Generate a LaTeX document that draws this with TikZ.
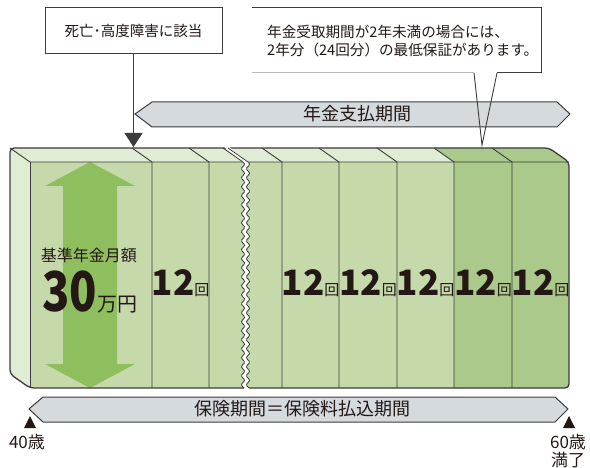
\documentclass[tikz,border=0pt]{standalone}
\usepackage{fontspec}
\setmainfont{Noto Sans CJK JP}
\usetikzlibrary{arrows.meta}
\definecolor{ink}{HTML}{231815}
\definecolor{edge}{HTML}{3C3C3C}
\definecolor{frontg}{HTML}{C6D9AB}
\definecolor{topg}{HTML}{E1ECD5}
\definecolor{darkg}{HTML}{ABC98A}
\definecolor{arrowg}{HTML}{8EBE5E}
\definecolor{bandc}{HTML}{D5DADF}
\tikzset{
  edgeline/.style={draw=edge, line width=1pt},
  bandshape/.style={fill=bandc, draw=edge, line width=1pt},
  bandlabel/.style={inner sep=0pt, text=ink, font=\fontsize{18}{18}\selectfont},
  cnt/.style={inner sep=0pt, anchor=base, text=ink},
  smalllabel/.style={inner sep=0pt, text=ink, font=\fontsize{17}{17}\selectfont},
}
\newcommand{\twelve}{{\fontsize{35}{35}\selectfont\bfseries 12}{\fontsize{15}{15}\selectfont 回}}
\begin{document}
\begin{tikzpicture}[x=1pt,y=-1pt]
\useasboundingbox (0,0) rectangle (590,468);

% callout box
\path[fill=white] (252,8) -- (541,8) -- (541,73) -- (497,73) -- (482,145) -- (474,73) -- (252,73) -- cycle;
\draw[edgeline] (252,8) -- (541,8) -- (541,73) -- (497,73) (474,73) -- (252,73) -- cycle;
\node[inner sep=0pt, anchor=west, align=left, text=ink, font=\fontsize{14.6}{18.5}\selectfont] (note) at (267,41)
  {年金受取期間が2年未満の場合には、\\2年分（24回分）の最低保証があります。};

% death box
\node[edgeline, fill=white, minimum width=177pt, minimum height=46pt, inner sep=0pt,
  text=ink, font=\fontsize{14.5}{14.5}\selectfont] (death) at (133.5,31) {死亡･高度障害に該当};

% pension band
\path[bandshape] (135,114) -- (152,102) -- (557,102) -- (570,114) -- (557,127) -- (152,127) -- cycle;
\node[bandlabel] (payperiod) at (357,114) {年金支払期間};

% callout tail on top of band
\coordinate (tailtip) at (482,145);
\draw[edge, line width=0.9pt] (474,73) -- (tailtip) -- (497,73);

% block
\def\silh{(30,388) -- (10,374) -- (10,148) -- (549,148) -- (569,162) -- (569,388) -- cycle}
\fill[topg, rounded corners=4pt] \silh;
\begin{scope}
  \clip[rounded corners=4pt] \silh;
  \fill[frontg] (30,162) rectangle (454,388);
  \fill[darkg] (454,162) rectangle (575,390);
  \fill[darkg] (434,148) -- (560,148) -- (575,162) -- (454,162) -- cycle;
\end{scope}

% big double arrow
\fill[arrowg] (90,162) -- (135,186) -- (117,186) -- (117,364) -- (135,364) -- (90,388)
  -- (45,364) -- (63,364) -- (63,186) -- (45,186) -- cycle;

% edges
\draw[edge, line width=0.9pt] (10,148) -- (30,162) -- (569,162);
\draw[edge, line width=0.9pt] (30,162) -- (30,388);
\foreach \sx in {152,209,282,339,397,454,512}{
  \draw[edge, line width=0.9pt] (\sx,388) -- (\sx,162) -- (\sx-20,148);
}
\draw[edge, line width=1.3pt, rounded corners=4pt] \silh;

% break
\fill[white] (223,146) -- (243,162)
  -- plot[domain=162:390, samples=120, variable=\t] ({243+1.6*sin((\t-162)*40)}, \t)
  -- plot[domain=390:162, samples=120, variable=\t] ({248+1.6*sin((\t-162)*40)}, \t)
  -- (228,146) -- cycle;
\draw[edge, line width=0.8pt] (223,148) -- (243,162)
  -- plot[domain=162:388, samples=120, variable=\t] ({243+1.6*sin((\t-162)*40)}, \t);
\draw[edge, line width=0.8pt] (228,148) -- (248,162)
  -- plot[domain=162:388, samples=120, variable=\t] ({248+1.6*sin((\t-162)*40)}, \t);

% texts in block
\node[inner sep=0pt, text=ink, font=\fontsize{16}{16}\selectfont] (base) at (89,255) {基準年金月額};
\node[cnt, anchor=base west] (thirty) at (42,312) {\scalebox{0.82}[1]{\fontsize{55}{55}\selectfont\bfseries 30}};
\node[cnt, anchor=base west, font=\fontsize{20}{20}\selectfont] (manen) at (97,312) {万円};
\foreach \cx/\nm in {180.5/a,310.5/b,368/c,425.5/d,483/e,540.5/f}{
  \node[cnt] (tw\nm) at (\cx,295) {\twelve};
}

% death arrow
\coordinate (deathpt) at (133.5,147);
\draw[edge, line width=1pt, -{Triangle[length=14pt,width=18pt]}] (death.south) -- (deathpt);

% insurance band
\path[bandshape] (29,409) -- (43,397) -- (555,397) -- (568,409) -- (555,422) -- (43,422) -- cycle;
\node[bandlabel] (insperiod) at (302,409) {保険期間＝保険料払込期間};

% markers
\fill[ink] (30,416) -- (36,428) -- (24,428) -- cycle;
\fill[ink] (569,416) -- (575,428) -- (563,428) -- cycle;
\node[smalllabel] (age40) at (27,442) {40歳};
\node[smalllabel] (age60) at (568,442) {60歳};
\node[smalllabel] (end60) at (568,460) {満了};
\end{tikzpicture}
\end{document}
